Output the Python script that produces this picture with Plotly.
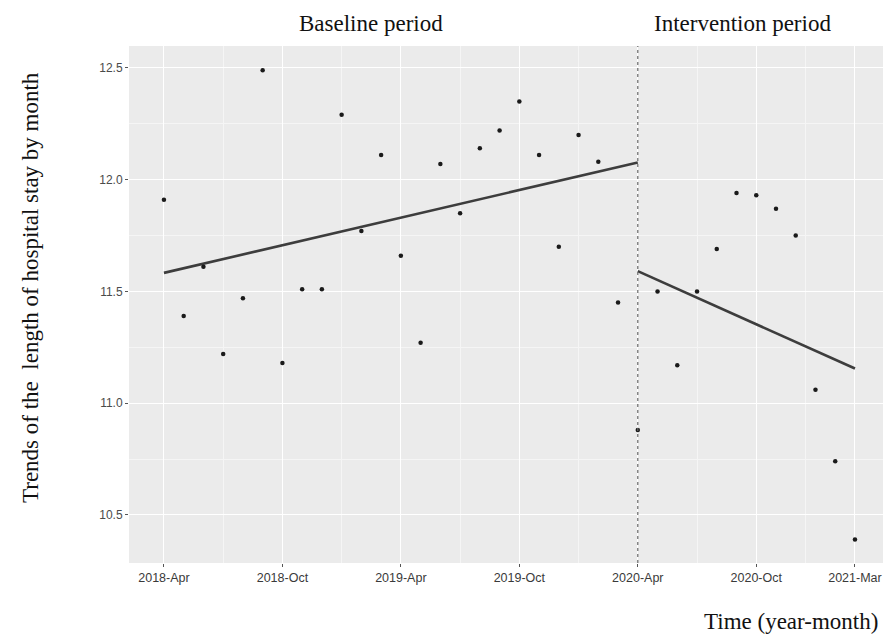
import plotly.graph_objects as go

# ---- data ----
month_index = list(range(36))  # 2018-Apr .. 2021-Mar
los_values = [
    11.91, 11.39, 11.61, 11.22, 11.47, 12.49, 11.18, 11.51, 11.51, 12.29, 11.77, 12.11,
    11.66, 11.27, 12.07, 11.85, 12.14, 12.22, 12.35, 12.11, 11.70, 12.20, 12.08, 11.45,
    10.88, 11.50, 11.17, 11.50, 11.69, 11.94, 11.93, 11.87, 11.75, 11.06, 10.74, 10.39,
]
tick_positions = [0, 6, 12, 18, 24, 30, 35]
tick_labels = ["2018-Apr", "2018-Oct", "2019-Apr", "2019-Oct", "2020-Apr", "2020-Oct", "2021-Mar"]
minor_positions = [3, 9, 15, 21, 27, 32.5]
y_ticks = [10.5, 11.0, 11.5, 12.0, 12.5]
y_tick_labels = ["10.5", "11.0", "11.5", "12.0", "12.5"]
y_minor = [10.75, 11.25, 11.75, 12.25]

baseline_trend_x = [0, 24]
baseline_trend_y = [11.583, 12.077]
intervention_trend_x = [24, 35]
intervention_trend_y = [11.591, 11.155]
intervention_start = 24

serif = "Liberation Serif, Times New Roman, serif"
sans = "Liberation Sans, Arial, sans-serif"

fig = go.Figure()
fig.add_trace(go.Scatter(x=baseline_trend_x, y=baseline_trend_y, mode="lines",
                         line=dict(color="#3d3d3d", width=2.6), hoverinfo="skip"))
fig.add_trace(go.Scatter(x=intervention_trend_x, y=intervention_trend_y, mode="lines",
                         line=dict(color="#3d3d3d", width=2.6), hoverinfo="skip"))
fig.add_trace(go.Scatter(x=month_index, y=los_values, mode="markers",
                         marker=dict(color="#1a1a1a", size=4.5)))

fig.add_shape(type="line", xref="x", yref="paper", x0=intervention_start, x1=intervention_start,
              y0=0, y1=1, line=dict(color="#6a6a6a", width=1.2, dash="dot"), layer="above")

fig.update_layout(
    width=883, height=636,
    margin=dict(l=129, r=0, t=46, b=73),
    paper_bgcolor="white", plot_bgcolor="#EBEBEB",
    showlegend=False,
    font=dict(family=sans, color="#3a3a3a"),
    xaxis=dict(range=[-1.77, 36.42], tickmode="array", tickvals=tick_positions, ticktext=tick_labels,
               showgrid=True, gridcolor="white", gridwidth=1.2, zeroline=False,
               ticks="outside", ticklen=3, tickcolor="#555555",
               tickfont=dict(family=sans, size=12.5, color="#3a3a3a"),
               minor=dict(tickmode="array", tickvals=minor_positions, showgrid=True,
                          gridcolor="#F5F5F5", gridwidth=0.6, ticks="")),
    yaxis=dict(range=[10.285, 12.598], tickmode="array", tickvals=y_ticks,
               ticktext=y_tick_labels,
               showgrid=True, gridcolor="white", gridwidth=1.2, zeroline=False,
               ticks="outside", ticklen=3, tickcolor="#555555",
               tickfont=dict(family=sans, size=12, color="#4a4a4a"),
               minor=dict(tickmode="array", tickvals=y_minor, showgrid=True,
                          gridcolor="#F5F5F5", gridwidth=0.6, ticks="")),
)

fig.add_annotation(text="Baseline period", xref="paper", yref="paper",
                   x=(370.5 - 129) / 754, y=1, yshift=23, xanchor="center", yanchor="middle",
                   showarrow=False, font=dict(family=serif, size=23, color="#111111"))
fig.add_annotation(text="Intervention period", xref="paper", yref="paper",
                   x=(742.5 - 129) / 754, y=1, yshift=23, xanchor="center", yanchor="middle",
                   showarrow=False, font=dict(family=serif, size=23, color="#111111"))
fig.add_annotation(text="Time (year-month)", xref="paper", yref="paper",
                   x=(880 - 129) / 754, y=0, yshift=-58, xanchor="right", yanchor="middle",
                   showarrow=False, font=dict(family=serif, size=23, color="#111111"))
fig.add_annotation(text="Trends of the\u00a0 length of hospital stay by month", xref="paper", yref="paper",
                   x=(30 - 129) / 754, y=(563 - 288) / 517, xanchor="center", yanchor="middle",
                   textangle=-90, showarrow=False, font=dict(family=serif, size=23, color="#111111"))

fig.write_html("out.html")
